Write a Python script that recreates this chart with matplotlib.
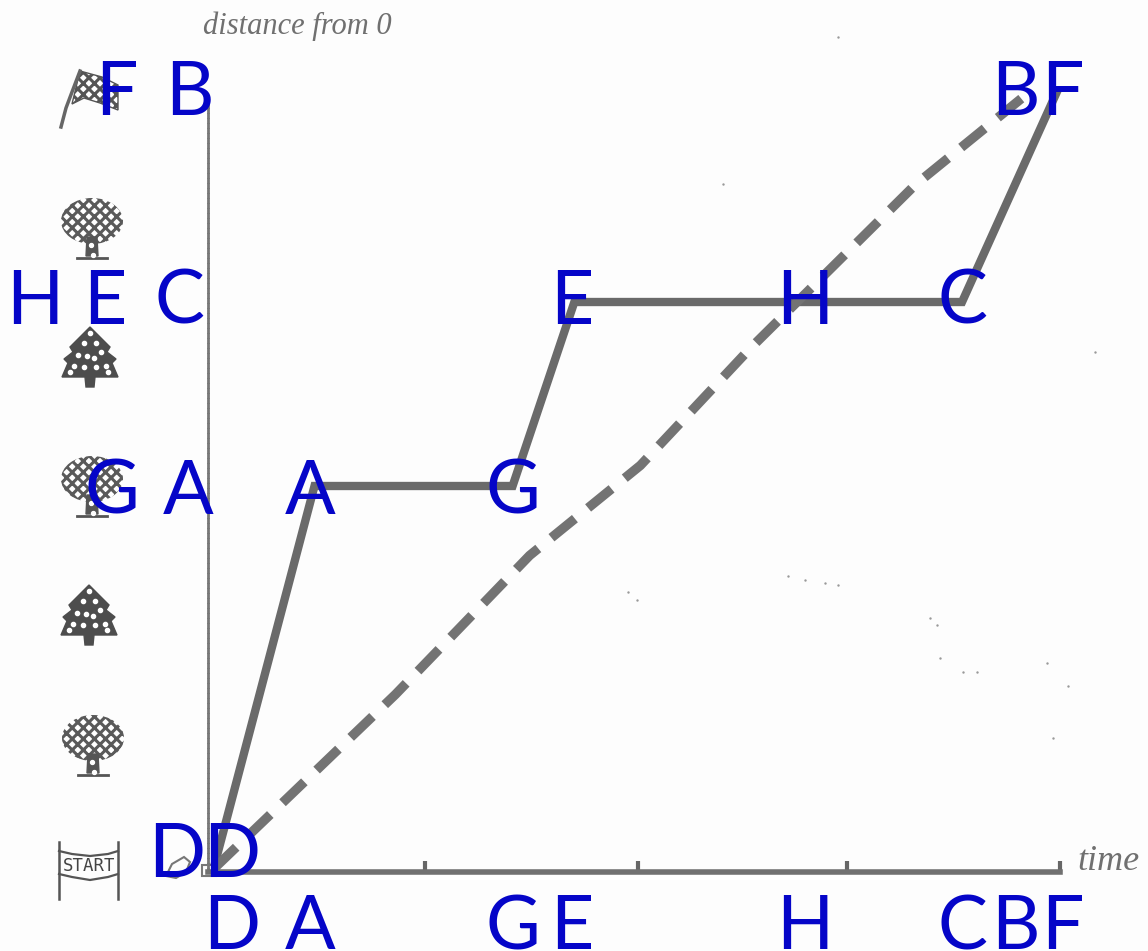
import matplotlib
matplotlib.use("Agg")
import matplotlib.pyplot as plt
from matplotlib.patches import Ellipse, Polygon, Rectangle

W, H = 1148, 951
BLUE = "#0505c8"
GREY = "#6a6a6a"
DARK = "#4a4a4a"

# time in ticks, distance in landmarks (start = 0, flag = 6)
solid_t = [0.03, 0.5, 1.43, 1.72, 3.54, 3.99]
solid_d = [0.05, 3.0, 3.0, 4.43, 4.43, 6.08]
dash_t = [0.03, 0.88, 1.51, 2.03, 2.54, 3.32, 3.84]
dash_d = [0.03, 1.38, 2.46, 3.16, 4.06, 5.34, 6.04]
ticks = [1.02, 2.02, 3.0, 4.0]

axis_labels = ["D", "A", "G", "E", "H", "C", "B", "F"]
axis_times = [0.113, 0.48, 1.43, 1.71, 2.8, 3.54, 3.79, 4.01]
curve_labels = ["A", "G", "E", "H", "C", "B", "F", "D", "D"]
curve_times = [0.48, 1.43, 1.71, 2.8, 3.54, 3.79, 4.01, -0.145, 0.113]
curve_dists = [2.95, 2.95, 4.43, 4.43, 4.43, 6.05, 6.05, 0.13, 0.13]
side_labels = ["F", "B", "H", "E", "C", "G", "A"]
side_x = [116, 189, 35, 105, 180, 112, 188]
side_d = [6.05, 6.05, 4.43, 4.43, 4.43, 2.95, 2.95]

tree_y = [229, 487, 746]
tree_x = [92, 92, 93]
fir_y = [357, 615]
fir_x = [90, 89]
speck_x = [838, 723, 628, 637, 788, 805, 825, 838, 930, 937, 940, 963, 977, 1047, 1068, 1053, 1095]
speck_y = [37, 184, 592, 600, 576, 580, 583, 585, 618, 625, 658, 672, 672, 663, 686, 738, 352]

plt.rcParams["hatch.linewidth"] = 2.2
fig = plt.figure(figsize=(W / 100, H / 100), dpi=100, facecolor="#fdfdfd")

# background layer in pixels, for the pictures at the side
bg = fig.add_axes([0, 0, 1, 1])
bg.set_xlim(0, W)
bg.set_ylim(H, 0)
bg.axis("off")

ax = fig.add_axes([208 / W, (H - 872) / H, 852 / W, 772 / H], facecolor="none")
ax.set_xlim(0, 4)
ax.set_ylim(0, 6)
for s in ["top", "right"]:
    ax.spines[s].set_visible(False)
ax.spines["left"].set_linestyle((0, (0.9, 0.9)))
ax.spines["left"].set_linewidth(2)
ax.spines["left"].set_color("#777777")
ax.spines["bottom"].set_linewidth(4)
ax.spines["bottom"].set_color("#707070")
ax.set_xticks(ticks)
ax.set_xticklabels([])
ax.set_yticks([])
ax.tick_params(axis="x", direction="in", length=8, width=3, color="#666666")

ax.plot(solid_t, solid_d, color=GREY, lw=6, solid_joinstyle="miter", solid_capstyle="butt",
        clip_on=False, zorder=3)
ax.plot(dash_t, dash_d, color="#737373", lw=6.8, dashes=(3.2, 1.8), dash_capstyle="butt",
        clip_on=False, zorder=3)

def draw_tree(x, y):
    bg.add_patch(Ellipse((x, y - 8), 62, 46, facecolor="white", edgecolor="#5a5a5a", hatch="xxx", lw=0))
    bg.add_patch(Polygon([(x - 5, y + 8), (x + 5, y + 8), (x + 6, y + 27), (x - 6, y + 27)], color="#555555"))
    bg.plot([x - 15, x + 15], [y + 29, y + 29], color="#555555", lw=2)
    bg.scatter([x - 1, x + 1], [y + 16, y + 26], s=8, color="white", zorder=3)

def draw_fir(x, y):
    pts = [(x, y - 30), (x + 12, y - 18), (x + 20, y - 10), (x + 17, y - 5), (x + 26, y + 2),
           (x + 22, y + 6), (x + 28, y + 20), (x + 5, y + 20), (x + 4, y + 30), (x - 4, y + 30),
           (x - 5, y + 20), (x - 28, y + 20), (x - 22, y + 6), (x - 26, y + 2), (x - 17, y - 5),
           (x - 20, y - 10), (x - 12, y - 18)]
    bg.add_patch(Polygon(pts, color="#4d4d4d"))
    dot_x = [x, x - 6, x + 6, x + 11, x - 12, x - 3, x + 4, x - 16, x - 6, x + 6, x + 16, x - 20, x + 18]
    dot_y = [y - 24, y - 14, y - 14, y - 5, y - 2, y - 1, y + 1, y + 9, y + 10, y + 10, y + 9, y + 15, y + 15]
    bg.scatter(dot_x, dot_y, s=9, color="white", zorder=3)

for x, y in zip(tree_x, tree_y):
    draw_tree(x, y)
for x, y in zip(fir_x, fir_y):
    draw_fir(x, y)

# finish flag
bg.add_patch(Polygon([(80, 71), (102, 77), (118, 85), (118, 110), (100, 103), (84, 98), (72, 104)],
                     facecolor="white", edgecolor="#555555", hatch="xxx", lw=1))
bg.plot([80, 72, 66, 61], [71, 92, 108, 127], color="#666666", lw=2.5)

# start banner
bg.plot([59, 59], [842, 899], color="#555555", lw=1.8)
bg.plot([118, 118], [842, 899], color="#555555", lw=1.8)
bg.plot([59, 72, 90, 108, 118], [851, 854, 856, 854, 851], color="#555555", lw=1.6)
bg.plot([59, 72, 90, 108, 118], [874, 877, 880, 877, 874], color="#555555", lw=1.6)
bg.text(89, 866, "START", ha="center", va="center", fontsize=12.5, family="DejaVu Sans Mono", color="#444444")

# runner scribble and origin box
bg.add_patch(Polygon([(166, 876), (172, 864), (184, 857), (190, 862), (186, 872), (176, 878)],
                     facecolor="none", edgecolor="#777777", lw=1.5))
bg.add_patch(Rectangle((202, 865), 14, 11, facecolor="none", edgecolor="#777777", lw=1.5))
bg.scatter(speck_x, speck_y, s=3, color="#999999", linewidths=0)

bg.text(297, 26, "distance from 0", ha="center", va="center", fontsize=22, style="italic",
        family="Liberation Serif", color="#707070")
bg.text(1108, 861, "time", ha="center", va="center", fontsize=26, style="italic",
        family="Liberation Serif", color="#707070")

label_style = dict(ha="center", va="center", fontsize=54, family="Lato", color=BLUE, zorder=6, clip_on=False)
for name, t in zip(axis_labels, axis_times):
    ax.annotate(name, (t, 0), xytext=(0, -40), xycoords="data", textcoords="offset points",
                ha="center", va="center", fontsize=54, family="Lato", color=BLUE, zorder=6,
                annotation_clip=False)
for name, t, d in zip(curve_labels, curve_times, curve_dists):
    ax.text(t, d, name, **label_style)
for name, x, d in zip(side_labels, side_x, side_d):
    ax.text((x - 208) / 213, d, name, **label_style)

fig.savefig("out.png", dpi=100, facecolor=fig.get_facecolor())
